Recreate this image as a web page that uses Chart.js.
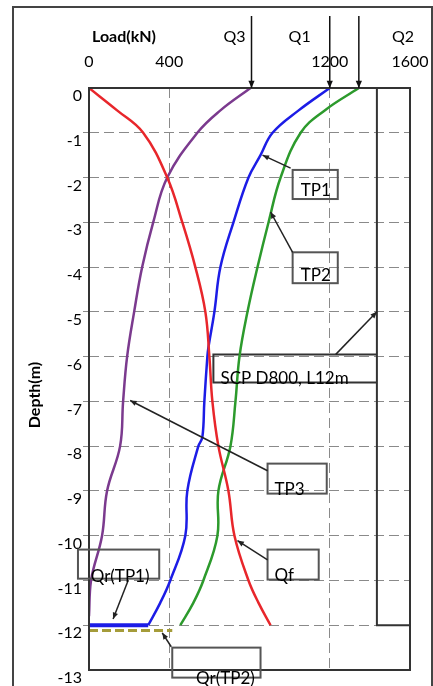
<!DOCTYPE html>
<html>
<head>
<meta charset="utf-8">
<script src="https://cdn.jsdelivr.net/npm/chart.js@4.4.1/dist/chart.umd.min.js"></script>
<style>
  html, body { margin: 0; padding: 0; background: #fff; }
  #wrap { width: 433px; height: 686px; }
</style>
</head>
<body>
<div id="wrap"><canvas id="pileChart" width="433" height="686"></canvas></div>
<script>
// axial load (kN) vs depth (m)
const depthQf = [0, -0.5, -1, -2, -3, -4, -5, -6, -7, -8, -9, -10, -11, -11.5, -12];
const loadQf  = [0, 140, 270, 390, 465, 530, 580, 600, 615, 645, 695, 725, 795, 845, 905];

const depthQ3 = [0, -0.5, -1, -2, -3, -4, -5, -6, -7, -8, -9, -10, -11, -11.8];
const loadQ3  = [805, 655, 540, 390, 320, 265, 225, 190, 170, 155, 90, 65, 10, 0];

const depthTP1 = [0, -0.5, -1, -1.5, -2, -3, -4, -5, -5.8, -6, -7, -7.8, -8, -9, -10, -11, -11.5, -12];
const loadTP1  = [1200, 1045, 915, 855, 795, 720, 655, 625, 595, 590, 575, 565, 545, 490, 480, 405, 355, 295];

const depthTP2 = [0, -0.5, -1, -2, -3, -4, -5, -6, -7, -8, -9, -10, -11, -11.5, -12];
const loadTP2  = [1345, 1175, 1055, 955, 895, 840, 790, 750, 730, 705, 645, 640, 570, 520, 455];

// tip resistance
const qrTP1Depth = [-12, -12];
const qrTP1Load  = [0, 295];
const qrTP2Depth = [-12.12, -12.12];
const qrTP2Load  = [0, 415];

// pile outline (SCP D800, L12m)
const pileLoad  = [1435, 1600, 1600, 1435, 1435];
const pileDepth = [0, 0, -12, -12, 0];
const scpLoad   = [1435, 620, 620, 1435];
const scpDepth  = [-5.95, -5.95, -6.58, -6.58];

// applied head loads
const headNames  = ['Q3', 'Q1', 'Q2'];
const headLoads  = [810, 1200, 1345];

// axis ticks
const xTickValues = [0, 400, 800, 1200, 1600];
const xTickLabels = ['0', '400', '', '1200', '1600'];
const xGridValues = [400, 1200];

const FONT = 'Lato, "Open Sans", sans-serif';

function pts(xs, ys) {
    return xs.map((x, i) => ({ x: x, y: ys[i] }));
}

// callouts: box [x1, x2, y1, y2], text anchor and leader, all in data units
const callouts = [
    { text: 'TP1', box: [1015, 1240, -1.83, -2.48], at: [1130, -2.28], align: 'center', from: [1005, -1.79], to: [865, -1.5] },
    { text: 'TP2', box: [1015, 1240, -3.67, -4.36], at: [1130, -4.18], align: 'center', from: [1015, -3.67], to: [905, -2.77] },
    { text: 'TP3', box: [890, 1185, -8.39, -9.06], at: [925, -8.97], align: 'left', from: [890, -8.55], to: [205, -6.98] },
    { text: 'Qf', box: [890, 1145, -10.31, -10.98], at: [925, -10.9], align: 'left', from: [890, -10.54], to: [740, -10.11] },
    { text: 'Qr(TP1)', box: [-55, 350, -10.31, -10.96], at: [155, -10.92], align: 'center', from: [195, -11.0], to: [120, -11.86] },
    { text: 'Qr(TP2)', box: [415, 855, -12.5, -13.17], at: [680, -13.18], align: 'center', from: [410, -12.48], to: [365, -12.17] },
    { text: 'SCP D800, L12m', box: null, at: [655, -6.49], align: 'left', from: [1230, -5.95], to: [1435, -5.0] }
];
const headLabelAt = [725, 1050, 1565];

function arrow(ctx, x1, y1, x2, y2, size) {
    const a = Math.atan2(y2 - y1, x2 - x1);
    ctx.beginPath();
    ctx.moveTo(x1, y1);
    ctx.lineTo(x2, y2);
    ctx.stroke();
    ctx.beginPath();
    ctx.moveTo(x2, y2);
    ctx.lineTo(x2 - size * Math.cos(a - 0.4), y2 - size * Math.sin(a - 0.4));
    ctx.lineTo(x2 - size * Math.cos(a + 0.4), y2 - size * Math.sin(a + 0.4));
    ctx.closePath();
    ctx.fill();
}

const decorations = {
    id: 'decorations',
    beforeDraw(chart) {
        const ctx = chart.ctx;
        ctx.save();
        ctx.fillStyle = '#fff';
        ctx.fillRect(0, 0, chart.width, chart.height);
        ctx.restore();
    },
    afterDraw(chart) {
        const ctx = chart.ctx;
        const xs = chart.scales.x, ys = chart.scales.y;
        const area = chart.chartArea;
        const px = v => xs.getPixelForValue(v);
        const py = v => ys.getPixelForValue(v);
        ctx.save();

        // plot frame
        ctx.strokeStyle = '#333';
        ctx.lineWidth = 2;
        ctx.strokeRect(area.left, area.top, area.right - area.left, area.bottom - area.top);

        // outer frame
        ctx.strokeStyle = '#444';
        ctx.lineWidth = 2;
        ctx.strokeRect(13, 7, 419, 700);

        // axis titles
        ctx.fillStyle = '#000';
        ctx.font = 'bold 16px ' + FONT;
        ctx.textAlign = 'center';
        ctx.textBaseline = 'middle';
        ctx.fillText('Load(kN)', 124, 37);
        ctx.save();
        ctx.translate(35, 395);
        ctx.rotate(-Math.PI / 2);
        ctx.fillText('Depth(m)', 0, 0);
        ctx.restore();

        // applied loads with arrows
        ctx.font = '16px ' + FONT;
        ctx.lineWidth = 1.5;
        headNames.forEach((name, i) => {
            ctx.strokeStyle = '#111';
            ctx.fillStyle = '#111';
            arrow(ctx, px(headLoads[i]), 16, px(headLoads[i]), area.top, 8);
            ctx.fillStyle = '#000';
            ctx.fillText(name, px(headLabelAt[i]), 37);
        });

        // callouts
        ctx.font = '17px ' + FONT;
        callouts.forEach(c => {
            ctx.strokeStyle = '#555';
            ctx.lineWidth = 2;
            if (c.box) {
                const [x1, x2, y1, y2] = c.box;
                ctx.strokeRect(px(x1), py(y1), px(x2) - px(x1), py(y2) - py(y1));
            }
            ctx.strokeStyle = '#222';
            ctx.fillStyle = '#222';
            ctx.lineWidth = 1.5;
            arrow(ctx, px(c.from[0]), py(c.from[1]), px(c.to[0]), py(c.to[1]), 7);
            ctx.fillStyle = '#000';
            ctx.textAlign = c.align;
            ctx.fillText(c.text, px(c.at[0]), py(c.at[1]));
        });
        ctx.restore();
    }
};

function buildChart() {
    const ctx = document.getElementById('pileChart').getContext('2d');
    const curve = (label, xs, ys, color) => ({
        label: label,
        data: pts(xs, ys),
        showLine: true,
        borderColor: color,
        borderWidth: 2.5,
        pointRadius: 0,
        tension: 0.4,
        fill: false
    });
    const straight = (label, xs, ys, color, width, dash) => ({
        label: label,
        data: pts(xs, ys),
        showLine: true,
        borderColor: color,
        borderWidth: width,
        borderDash: dash,
        pointRadius: 0,
        tension: 0
    });
    window.pileChart = new Chart(ctx, {
        type: 'scatter',
        data: {
            datasets: [
                curve('Qf', loadQf, depthQf, '#e8262b'),
                curve('Q3', loadQ3, depthQ3, '#7b3a8e'),
                curve('TP1', loadTP1, depthTP1, '#1c1ce6'),
                curve('TP2', loadTP2, depthTP2, '#2c9a2c'),
                straight('Qr(TP1)', qrTP1Load, qrTP1Depth, '#1c1ce6', 4, []),
                straight('Qr(TP2)', qrTP2Load, qrTP2Depth, '#a59c3a', 3, [9, 4]),
                straight('pile', pileLoad, pileDepth, '#333', 2, []),
                straight('scp', scpLoad, scpDepth, '#333', 2, [])
            ]
        },
        options: {
            responsive: false,
            animation: false,
            layout: { padding: { left: 0, top: 0, right: 23, bottom: 16 } },
            plugins: {
                legend: { display: false },
                tooltip: { enabled: false }
            },
            scales: {
                x: {
                    type: 'linear',
                    position: 'top',
                    min: 0,
                    max: 1600,
                    afterFit: scale => {
                        scale.height = 88;
                        scale.paddingLeft = 0;
                        scale.paddingRight = 0;
                    },
                    afterBuildTicks: scale => {
                        scale.ticks = xTickValues.map(v => ({ value: v }));
                    },
                    ticks: {
                        padding: 17,
                        color: '#000',
                        font: { family: FONT, size: 16 },
                        maxRotation: 0,
                        callback: (v) => xTickLabels[xTickValues.indexOf(v)]
                    },
                    grid: {
                        drawTicks: false,
                        color: c => xGridValues.includes(c.tick && c.tick.value) ? '#8a8a8a' : 'rgba(0,0,0,0)',
                        lineWidth: 1
                    },
                    border: { display: false, dash: [10, 5] }
                },
                y: {
                    type: 'linear',
                    min: -13,
                    max: 0,
                    afterFit: scale => {
                        scale.width = 89;
                        scale.paddingTop = 0;
                        scale.paddingBottom = 0;
                    },
                    ticks: {
                        stepSize: 1,
                        padding: 1,
                        labelOffset: 8,
                        color: '#000',
                        font: { family: FONT, size: 16 }
                    },
                    grid: {
                        drawTicks: true,
                        tickLength: 6,
                        color: c => (c.tick && c.tick.value < 0 && c.tick.value > -13) ? '#8a8a8a' : 'rgba(0,0,0,0)',
                        lineWidth: 1
                    },
                    border: { display: false, dash: [10, 5] }
                }
            }
        },
        plugins: [decorations]
    });
}

Promise.all([
    document.fonts.load('16px Lato'),
    document.fonts.load('bold 16px Lato')
]).then(buildChart, buildChart);
</script>
</body>
</html>
